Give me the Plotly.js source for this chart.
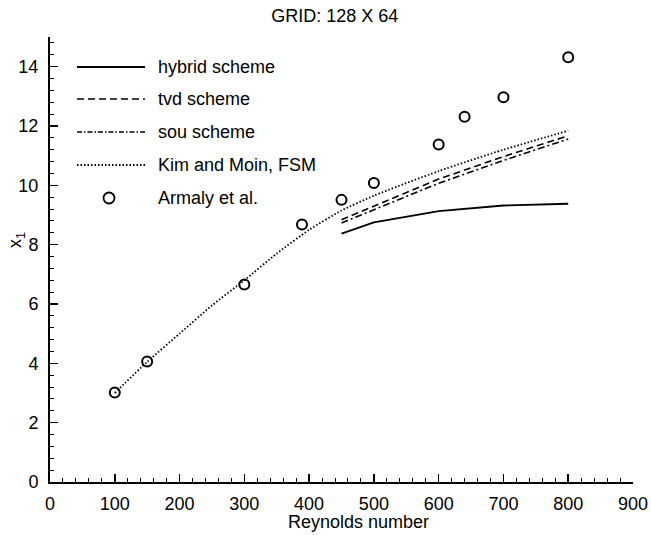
<!DOCTYPE html>
<html>
<head>
<meta charset="utf-8">
<script src="https://cdn.plot.ly/plotly-3.0.1.min.js"></script>
<style>
  html, body { margin: 0; padding: 0; background: #fff; }
  #chart { width: 651px; height: 535px; }
</style>
</head>
<body>
<div id="chart"></div>
<script>
// Reattachment length x1 versus Reynolds number, 128 x 64 grid
const reHybrid = [450, 500, 600, 700, 800];
const x1Hybrid = [8.37, 8.75, 9.13, 9.32, 9.38];

const reTvd = [450, 500, 600, 700, 800];
const x1Tvd = [8.84, 9.29, 10.21, 10.97, 11.67];

const reSou = [450, 500, 600, 700, 800];
const x1Sou = [8.73, 9.17, 10.07, 10.84, 11.56];

const reKim = [100, 150, 200, 250, 300, 350, 400, 450, 500, 600, 700, 800];
const x1Kim = [3.0, 4.05, 5.0, 5.95, 6.8, 7.7, 8.5, 9.15, 9.65, 10.48, 11.2, 11.84];

const reArmaly = [100, 150, 300, 389, 450, 500, 600, 640, 700, 800];
const x1Armaly = [3.02, 4.06, 6.66, 8.68, 9.51, 10.08, 11.38, 12.31, 12.97, 14.32];

const legendNames = ['hybrid scheme', 'tvd scheme', 'sou scheme', 'Kim and Moin, FSM', 'Armaly et al.'];

const FONT = 'Liberation Sans, Arial, Helvetica, sans-serif';
const FS = 18;

const styles = [
  { width: 1.9, dash: 'solid' },
  { width: 1.6, dash: '7px,4px' },
  { width: 1.6, dash: '7px,3px,2px,3px' },
  { width: 1.8, dash: '1.5px,2px' }
];

const traces = [
  { x: reHybrid, y: x1Hybrid, name: legendNames[0], mode: 'lines',
    line: { color: '#000', width: styles[0].width, dash: styles[0].dash } },
  { x: reTvd, y: x1Tvd, name: legendNames[1], mode: 'lines',
    line: { color: '#000', width: styles[1].width, dash: styles[1].dash } },
  { x: reSou, y: x1Sou, name: legendNames[2], mode: 'lines',
    line: { color: '#000', width: styles[2].width, dash: styles[2].dash } },
  { x: reKim, y: x1Kim, name: legendNames[3], mode: 'lines',
    line: { color: '#000', width: styles[3].width, dash: styles[3].dash, shape: 'spline', smoothing: 0.6 } },
  { x: reArmaly, y: x1Armaly, name: legendNames[4], mode: 'markers',
    marker: { symbol: 'circle-open', size: 10, color: '#000', line: { color: '#000', width: 2 } } }
];

// Plot area in pixels, used to lay out the hand-drawn key
const W = 651, H = 535;
const M = { l: 50, r: 18, t: 37, b: 53 };
const PW = W - M.l - M.r, PH = H - M.t - M.b;
const px = v => (v - M.l) / PW;
const py = v => (H - M.b - v) / PH;

const keyRows = [67, 99, 132, 165, 198];
const keyX0 = 77, keyX1 = 145, keyText = 156;

const shapes = [];
const annotations = [];
for (let i = 0; i < 4; i++) {
  shapes.push({
    type: 'line', xref: 'paper', yref: 'paper',
    x0: px(keyX0), x1: px(keyX1), y0: py(keyRows[i]), y1: py(keyRows[i]),
    line: { color: '#000', width: styles[i].width, dash: i === 2 ? '5px,2px,1.5px,2px' : styles[i].dash }
  });
}
shapes.push({
  type: 'circle', xref: 'paper', yref: 'paper',
  xsizemode: 'pixel', ysizemode: 'pixel',
  xanchor: px(109), yanchor: py(keyRows[4]),
  x0: -5.5, x1: 5.5, y0: -5.5, y1: 5.5,
  line: { color: '#000', width: 1.8 }
});
for (let i = 0; i < 5; i++) {
  annotations.push({
    xref: 'paper', yref: 'paper', x: px(keyText), y: py(keyRows[i]),
    xanchor: 'left', yanchor: 'middle', showarrow: false,
    text: legendNames[i], font: { family: FONT, size: FS, color: '#000' }
  });
}
// Axis titles
annotations.push({
  xref: 'paper', yref: 'paper', x: px(358), y: py(522),
  xanchor: 'center', yanchor: 'middle', showarrow: false,
  text: 'Reynolds number', font: { family: FONT, size: FS, color: '#000' }
});
annotations.push({
  xref: 'paper', yref: 'paper', x: px(16), y: py(240),
  xanchor: 'center', yanchor: 'middle', showarrow: false, textangle: -90,
  text: 'x<sub>1</sub>', font: { family: FONT, size: FS, color: '#000' }
});

const axisCommon = {
  showgrid: false, zeroline: false,
  showline: true, linecolor: '#000', linewidth: 2, mirror: false,
  ticks: 'inside', ticklen: 8, tickwidth: 1.5, tickcolor: '#000',
  tickfont: { family: FONT, size: FS, color: '#000' }
};

const layout = {
  width: W, height: H,
  margin: M,
  paper_bgcolor: '#fff', plot_bgcolor: '#fff',
  showlegend: false,
  title: {
    text: 'GRID: 128 X 64',
    font: { family: FONT, size: FS, color: '#000' },
    x: 318 / W, xanchor: 'center', xref: 'paper',
    y: 1 - 16 / H, yanchor: 'middle', yref: 'container'
  },
  xaxis: Object.assign({}, axisCommon, {
    range: [0, 900], tickmode: 'linear', tick0: 0, dtick: 100,
    ticklabelstandoff: 4,
    minor: { dtick: 20, ticks: 'inside', ticklen: 4, tickwidth: 1, tickcolor: '#000' }
  }),
  yaxis: Object.assign({}, axisCommon, {
    range: [0, 15], tickmode: 'linear', tick0: 0, dtick: 2,
    ticklabelstandoff: 6,
    minor: { dtick: 0.4, ticks: 'inside', ticklen: 4, tickwidth: 1, tickcolor: '#000' }
  }),
  shapes: shapes,
  annotations: annotations
};

Plotly.newPlot('chart', traces, layout, { displayModeBar: false, staticPlot: true });
</script>
</body>
</html>
